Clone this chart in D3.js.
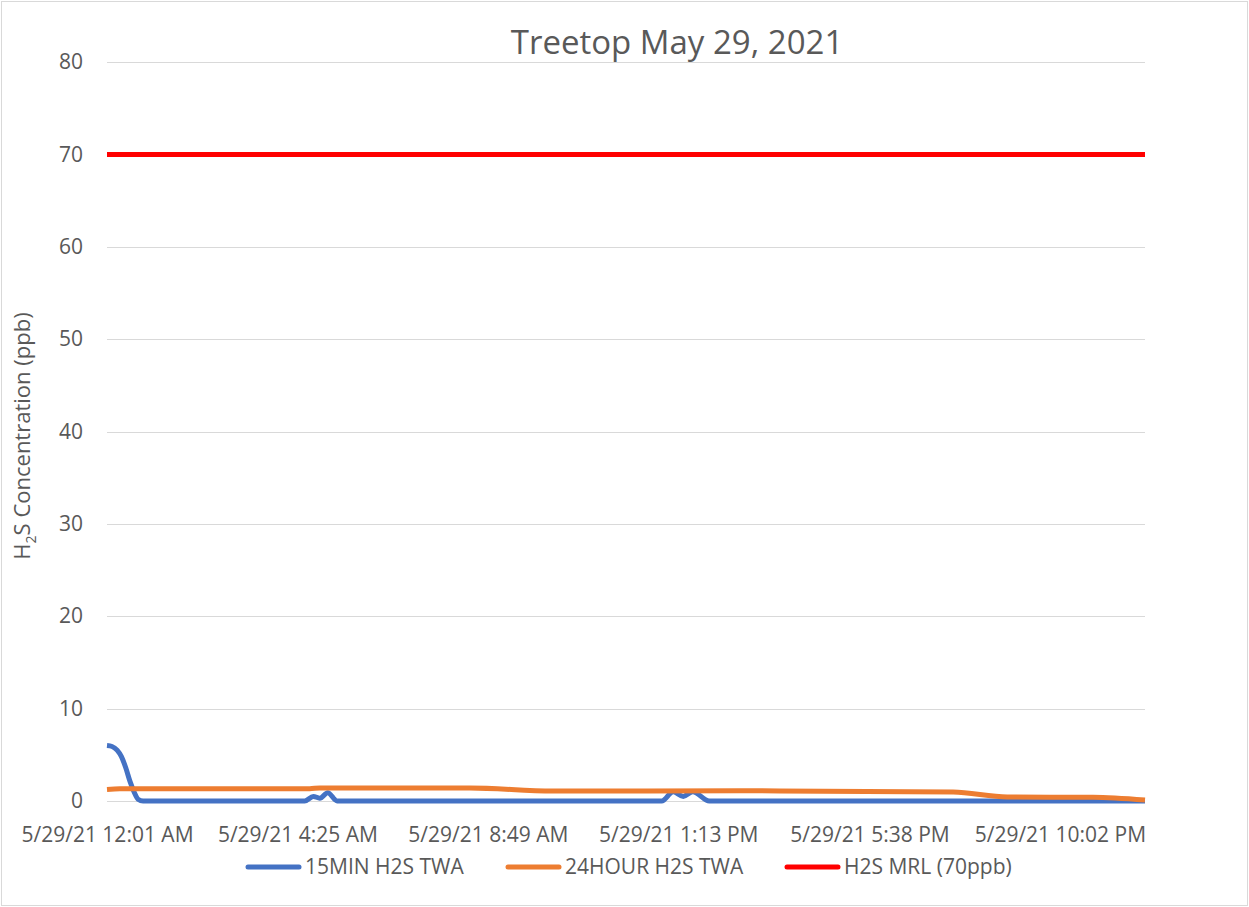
<!DOCTYPE html>
<html>
<head>
<meta charset="utf-8">
<script src="https://cdn.jsdelivr.net/npm/d3@7"></script>
<style>
  body { margin:0; background:#fff; }
  text { font-family:"Open Sans", sans-serif; fill:#595959; }
</style>
</head>
<body>
<div id="chart"></div>
<script>
// 15MIN H2S TWA (time of day, ppb)
var min15Times  = ["00:01","00:08","00:15","00:21","00:27","00:33","00:39","00:44","00:51",
                   "04:35","04:47","04:56","05:07","05:20",
                   "12:50","13:06","13:20","13:33","13:56","24:00"];
var min15Values = [6.0, 5.9, 5.5, 4.8, 3.6, 2.1, 0.9, 0.2, 0,
                   0, 0.5, 0.3, 0.9, 0,
                   0, 1.0, 0.5, 1.0, 0, 0];

// 24HOUR H2S TWA
var hour24Times  = ["00:01","00:19","04:42","04:56","08:24","10:19","14:39","19:34","20:49","22:48","24:00"];
var hour24Values = [1.25, 1.32, 1.32, 1.42, 1.42, 1.08, 1.1, 0.97, 0.43, 0.4, 0.1];

// H2S MRL
var mrlTimes  = ["00:01","24:00"];
var mrlValues = [70, 70];

var xTickTimes = ["00:01","04:25","08:49","13:13","17:38","22:02"];
var yTicks = [0,10,20,30,40,50,60,70,80];

var seriesNames  = ["15MIN H2S TWA","24HOUR H2S TWA","H2S MRL (70ppb)"];
var seriesColors = ["#4472C4","#ED7D31","#FF0000"];

var W = 1249, H = 907;
var margin = { left:107, right:104, top:62, bottom:106 };
var width = W - margin.left - margin.right,
    height = H - margin.top - margin.bottom;

function toDate(s){
  var p = s.split(":");
  return new Date(2021, 4, 29, +p[0], +p[1]);
}
function zip(times, vals){
  return times.map(function(t, i){ return { t: toDate(t), v: vals[i] }; });
}
var series = [zip(min15Times, min15Values), zip(hour24Times, hour24Values), zip(mrlTimes, mrlValues)];

var svg = d3.select("#chart").append("svg")
    .attr("width", W).attr("height", H);

// outer border
svg.append("rect")
    .attr("x", 1.5).attr("y", 1.5)
    .attr("width", W - 3).attr("height", H - 3)
    .attr("fill", "#fff").attr("stroke", "#d9d9d9");

var g = svg.append("g")
    .attr("transform", "translate(" + margin.left + "," + margin.top + ")");

var x = d3.scaleTime()
    .domain([toDate("00:01"), toDate("24:00")])
    .range([0, width]);

var y = d3.scaleLinear()
    .domain([0, 80])
    .range([height, 0]);

// gridlines
g.append("g").selectAll("line")
  .data(yTicks)
  .enter().append("line")
    .attr("x1", 0).attr("x2", width)
    .attr("y1", function(d){ return Math.round(y(d)) + 0.5; })
    .attr("y2", function(d){ return Math.round(y(d)) + 0.5; })
    .attr("stroke", "#d9d9d9").attr("stroke-width", 1);

// y axis
var yAxis = g.append("g")
    .call(d3.axisLeft(y).tickValues(yTicks).tickSize(0).tickPadding(24));
yAxis.select(".domain").remove();
yAxis.selectAll("text")
    .attr("font-size", "21px")
    .attr("font-family", "Open Sans")
    .attr("fill", "#595959");

// x axis
var fmt = d3.timeFormat("%-I:%M %p");
var xAxis = g.append("g")
    .attr("transform", "translate(0," + height + ")")
    .call(d3.axisBottom(x)
      .tickValues(xTickTimes.map(toDate))
      .tickSize(0).tickPadding(26)
      .tickFormat(function(d){ return "5/29/21 " + fmt(d); }));
xAxis.select(".domain").remove();
xAxis.selectAll("text")
    .attr("font-size", "21px")
    .attr("font-family", "Open Sans")
    .attr("fill", "#595959");

// lines
var line = d3.line()
    .x(function(d){ return x(d.t); })
    .y(function(d){ return y(d.v); })
    .curve(d3.curveMonotoneX);

g.selectAll(".series")
  .data(series)
  .enter().append("path")
    .attr("class", "series")
    .attr("d", line)
    .attr("fill", "none")
    .attr("stroke", function(d, i){ return seriesColors[i]; })
    .attr("stroke-width", 5)
    .attr("stroke-linejoin", "round")
    .attr("stroke-linecap", "butt");

// title
svg.append("text")
    .attr("x", 677).attr("y", 54)
    .attr("text-anchor", "middle")
    .attr("font-size", "33px")
    .text("Treetop May 29, 2021");

// y label
var yl = svg.append("text")
    .attr("transform", "translate(30," + 436 + ") rotate(-90)")
    .attr("text-anchor", "middle")
    .attr("font-size", "22px");
yl.append("tspan").text("H");
yl.append("tspan").attr("font-size", "14px").attr("dy", 6).text("2");
yl.append("tspan").attr("dy", -6).text("S Concentration (ppb)");

// legend
var legendX = [246, 506, 785];
var legend = svg.append("g").selectAll("g")
  .data(seriesNames)
  .enter().append("g")
    .attr("transform", function(d, i){ return "translate(" + legendX[i] + ",867)"; });

legend.append("line")
    .attr("x1", 2).attr("x2", 53)
    .attr("stroke", function(d, i){ return seriesColors[i]; })
    .attr("stroke-width", 5)
    .attr("stroke-linecap", "round");

legend.append("text")
    .attr("x", 59).attr("dy", "0.35em")
    .attr("font-size", "21px")
    .text(function(d){ return d; });
</script>
</body>
</html>
